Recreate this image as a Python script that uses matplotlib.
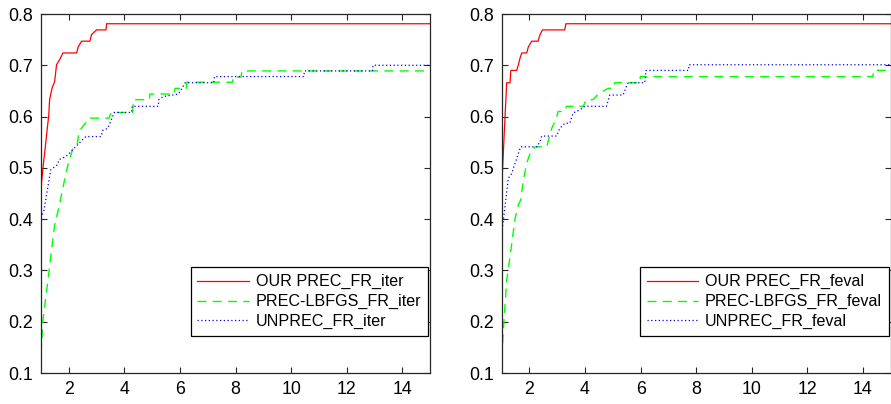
import matplotlib
matplotlib.use("Agg")
import matplotlib.pyplot as plt

plt.rcParams['font.family'] = ['Liberation Sans', 'DejaVu Sans']

# ---- Left panel (iterations) ----
iter_our_x = [1.0, 1.09, 1.13, 1.22, 1.28, 1.31, 1.40, 1.49, 1.56, 1.68, 1.79, 2.28, 2.34, 2.46, 2.76, 2.82, 3.0, 3.34, 3.36, 15]
iter_our_y = [0.461, 0.51, 0.528, 0.574, 0.603, 0.633, 0.656, 0.668, 0.701, 0.712, 0.724, 0.724, 0.736, 0.747, 0.747, 0.760, 0.769, 0.769, 0.781, 0.781]

iter_lbfgs_x = [1.0, 1.07, 1.25, 1.38, 1.49, 1.65, 1.77, 1.95, 2.13, 2.31, 2.37, 2.55, 2.73, 3.45, 3.52, 4.30, 4.33, 4.90, 4.92, 5.80, 5.82, 6.23, 6.25, 7.89, 7.91, 8.20, 8.23, 15]
iter_lbfgs_y = [0.138, 0.203, 0.281, 0.34, 0.388, 0.424, 0.457, 0.502, 0.535, 0.548, 0.571, 0.584, 0.597, 0.597, 0.608, 0.608, 0.633, 0.633, 0.644, 0.644, 0.655, 0.655, 0.667, 0.667, 0.677, 0.677, 0.689, 0.689]

iter_unprec_x = [1.0, 1.11, 1.23, 1.35, 1.59, 1.65, 1.89, 2.01, 2.19, 2.37, 2.61, 3.16, 3.22, 3.40, 3.64, 4.26, 4.28, 5.22, 5.24, 5.40, 5.95, 6.07, 6.19, 7.22, 7.24, 10.46, 10.48, 12.93, 12.95, 15]
iter_unprec_y = [0.402, 0.418, 0.457, 0.496, 0.506, 0.516, 0.522, 0.528, 0.538, 0.548, 0.561, 0.561, 0.573, 0.577, 0.608, 0.608, 0.62, 0.62, 0.633, 0.639, 0.644, 0.655, 0.666, 0.666, 0.678, 0.678, 0.689, 0.689, 0.70, 0.70]

# ---- Right panel (function evaluations) ----
feval_our_x = [1.0, 1.12, 1.18, 1.30, 1.33, 1.54, 1.60, 1.66, 1.72, 1.90, 1.96, 2.08, 2.31, 2.38, 2.47, 3.27, 3.31, 15]
feval_our_y = [0.461, 0.60, 0.666, 0.666, 0.69, 0.69, 0.701, 0.714, 0.724, 0.724, 0.736, 0.747, 0.747, 0.760, 0.769, 0.769, 0.781, 0.781]

feval_lbfgs_x = [1.0, 1.06, 1.18, 1.30, 1.48, 1.60, 1.68, 1.78, 1.90, 2.02, 2.20, 2.62, 2.80, 2.97, 3.03, 3.27, 3.33, 3.93, 4.05, 4.29, 4.47, 4.83, 5.01, 5.07, 5.97, 5.99, 14.36, 14.38, 15]
feval_lbfgs_y = [0.128, 0.184, 0.281, 0.327, 0.401, 0.428, 0.437, 0.476, 0.509, 0.528, 0.541, 0.541, 0.577, 0.597, 0.610, 0.610, 0.620, 0.620, 0.633, 0.633, 0.644, 0.655, 0.655, 0.666, 0.666, 0.678, 0.678, 0.69, 0.69]

feval_unprec_x = [1.0, 1.06, 1.18, 1.24, 1.36, 1.48, 1.60, 1.68, 2.26, 2.38, 2.44, 2.98, 3.09, 3.27, 3.45, 3.57, 3.81, 3.99, 4.77, 4.89, 5.37, 5.49, 5.55, 6.15, 6.19, 7.72, 7.74, 15]
feval_unprec_y = [0.372, 0.398, 0.453, 0.48, 0.489, 0.509, 0.528, 0.541, 0.541, 0.551, 0.562, 0.562, 0.577, 0.587, 0.587, 0.607, 0.613, 0.620, 0.620, 0.642, 0.642, 0.659, 0.666, 0.666, 0.690, 0.690, 0.701, 0.701]

labels_iter = ['OUR PREC_FR_iter', 'PREC-LBFGS_FR_iter', 'UNPREC_FR_iter']
labels_feval = ['OUR PREC_FR_feval', 'PREC-LBFGS_FR_feval', 'UNPREC_FR_feval']

xticks = [2, 4, 6, 8, 10, 12, 14]
yticks = [0.1, 0.2, 0.3, 0.4, 0.5, 0.6, 0.7, 0.8]

fig = plt.figure(figsize=(8.91, 4.04), dpi=100)
ax1 = fig.add_axes([41/891, 1-373/404, 389/891, 359/404])
ax2 = fig.add_axes([501.7/891, 1-373/404, 389/891, 359/404])

panels = [
    (ax1, (iter_our_x, iter_our_y), (iter_lbfgs_x, iter_lbfgs_y), (iter_unprec_x, iter_unprec_y), labels_iter),
    (ax2, (feval_our_x, feval_our_y), (feval_lbfgs_x, feval_lbfgs_y), (feval_unprec_x, feval_unprec_y), labels_feval),
]

for ax, our, lb, un, labs in panels:
    ax.plot(our[0], our[1], color='#ff0000', lw=0.9, label=labs[0])
    ax.plot(lb[0], lb[1], color='#00ff00', lw=1.0, dashes=(6.5, 4.5), label=labs[1])
    ax.plot(un[0], un[1], color='#0000ff', lw=0.9, linestyle=(0, (1, 2)), label=labs[2])
    ax.set_xlim(1, 15)
    ax.set_ylim(0.1, 0.8)
    ax.set_xticks(xticks)
    ax.set_yticks(yticks)
    ax.set_yticklabels([f'{v:.1f}' for v in yticks])
    ax.tick_params(direction='in', top=True, right=True, length=4.5, width=0.8,
                   labelsize=12.8, pad=5.5, colors='#262626', labelcolor='black')
    for s in ax.spines.values():
        s.set_linewidth(0.9)
        s.set_color('#262626')
    leg = ax.legend(loc='lower right', bbox_to_anchor=(0.995, 0.103), borderaxespad=0,
                    fancybox=False, edgecolor='black', framealpha=1, fontsize=11.6,
                    handlelength=3.2, handletextpad=0.42, labelspacing=0.3,
                    borderpad=0.42)
    leg.get_frame().set_linewidth(0.9)

fig.savefig('out.png', dpi=100)
